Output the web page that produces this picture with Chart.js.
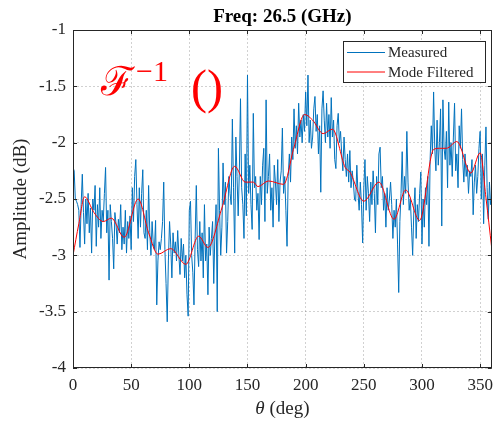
<!DOCTYPE html>
<html>
<head>
<meta charset="utf-8">
<script src="https://cdn.jsdelivr.net/npm/chart.js@4"></script>
<style>
html, body { margin: 0; padding: 0; background: #fff; }
</style>
</head>
<body>
<canvas id="myChart" width="500" height="423"></canvas>
<script>
// measured amplitude (dB), one sample per degree, theta = 0..360
var thetaStep = 1;
var measured = [
    -2.22, -2.25, -2.50, -2.52, -2.55, -2.60, -2.93, -2.55, -2.28, -2.62,
    -2.90, -2.50, -2.72, -2.45, -2.80, -2.58, -2.98, -2.50, -2.60, -2.38,
    -2.92, -2.55, -2.75, -2.40, -2.85, -2.60, -2.70, -2.45, -2.22, -2.80,
    -2.60, -3.22, -2.55, -2.70, -2.85, -3.12, -2.62, -2.72, -2.90, -2.68,
    -2.80, -2.55, -2.95, -2.75, -2.90, -2.60, -2.98, -2.70, -2.85, -2.65,
    -2.95, -2.40, -2.70, -2.30, -2.15, -2.55, -2.85, -2.40, -2.75, -2.45,
    -2.24, -2.80, -2.85, -2.60, -2.95, -2.38, -2.80, -3.00, -2.70, -2.90,
    -2.95, -2.69, -3.44, -3.05, -2.88, -2.95, -2.85, -2.70, -2.35, -2.95,
    -3.25, -3.59, -3.05, -2.70, -2.90, -3.20, -2.80, -2.98, -2.88, -3.05,
    -2.78, -3.00, -3.17, -2.85, -3.05, -2.90, -3.20, -3.00, -3.35, -3.54,
    -2.60, -2.52, -3.00, -3.15, -3.44, -2.85, -2.38, -2.95, -3.10, -2.70,
    -3.05, -2.80, -3.20, -2.55, -3.05, -2.90, -3.35, -2.75, -3.00, -2.85,
    -2.70, -3.25, -2.80, -2.55, -3.50, -2.05, -2.60, -3.00, -2.75, -2.18,
    -2.55, -2.35, -2.98, -2.70, -2.30, -2.45, -2.55, -1.79, -2.40, -2.98,
    -1.95, -2.30, -2.65, -2.25, -1.61, -2.40, -2.55, -2.85, -2.10, -2.65,
    -1.40, -2.45, -2.20, -2.55, -2.77, -1.74, -2.40, -2.30, -2.60, -2.45,
    -2.86, -2.30, -2.55, -2.20, -2.05, -2.70, -1.62, -2.45, -2.30, -2.10,
    -2.60, -2.40, -2.75, -2.20, -2.35, -2.55, -2.15, -2.70, -2.35, -2.25,
    -1.87, -2.45, -2.30, -2.60, -2.92, -2.30, -2.10, -2.35, -1.95, -2.15,
    -1.70, -2.05, -1.85, -2.10, -1.65, -1.95, -1.80, -2.00, -1.75, -1.90,
    -1.55, -1.85, -1.40, -2.00, -1.80, -2.05, -1.95, -1.70, -1.59, -1.90,
    -1.75, -2.10, -1.85, -2.44, -1.70, -1.54, -1.80, -2.00, -1.65, -1.95,
    -1.75, -2.05, -1.60, -1.95, -1.80, -2.15, -2.23, -1.85, -1.74, -2.00,
    -1.90, -2.10, -2.25, -1.95, -2.15, -2.30, -2.10, -2.35, -2.07, -2.40,
    -2.25, -2.35, -2.50, -2.52, -2.20, -2.45, -2.60, -2.35, -2.55, -2.89,
    -2.40, -2.15, -2.60, -2.30, -2.45, -2.70, -2.35, -2.55, -2.25, -2.45,
    -2.80, -2.30, -2.55, -2.10, -2.04, -2.40, -2.30, -2.60, -2.45, -2.75,
    -2.40, -2.60, -2.50, -2.35, -2.55, -2.85, -2.60, -2.75, -2.50, -2.90,
    -3.33, -2.70, -2.45, -2.08, -2.55, -2.30, -2.45, -1.90, -2.35, -2.60,
    -2.50, -2.75, -3.00, -2.60, -2.40, -2.85, -2.55, -2.70, -2.45, -2.26,
    -2.90, -2.50, -2.75, -2.40, -2.55, -2.30, -2.92, -2.15, -1.85, -2.10,
    -1.55, -2.05, -2.25, -1.80, -2.20, -2.00, -1.70, -2.74, -1.62, -2.05,
    -2.15, -1.90, -2.40, -1.64, -2.20, -2.00, -2.30, -1.95, -1.65, -2.25,
    -2.10, -2.40, -1.85, -2.05, -1.70, -2.15, -2.35, -2.10, -2.30, -2.20,
    -2.45, -2.25, -2.30, -2.15, -2.64, -2.35, -2.20, -2.45, -2.30, -2.05,
    -1.90, -2.50, -2.10, -2.72, -2.20, -1.86, -2.40, -2.68, -2.35, -2.55,
    -2.50
];

// mode filtered curve, read at its turning points
var filteredDeg = [0, 5, 10, 18, 26, 33, 44, 56, 65, 73, 84, 97, 108, 116, 128, 139, 148, 155, 159, 168,
    181, 190, 199, 206, 215, 223, 234, 238, 250, 263, 276, 286, 298, 310, 315, 321, 330, 342, 350, 355, 360];
var filteredAmp = [-3.00, -2.72, -2.48, -2.62, -2.70, -2.67, -2.84, -2.50, -2.80, -2.99, -2.94, -3.08, -2.83, -2.93, -2.58, -2.21, -2.35, -2.35, -2.39, -2.34,
    -2.37, -2.04, -1.75, -1.80, -1.92, -1.88, -2.22, -2.26, -2.52, -2.35, -2.68, -2.42, -2.69, -2.06, -2.05, -2.05, -1.99, -2.27, -2.09, -2.49, -2.94];

var xTicks = [0, 50, 100, 150, 200, 250, 300, 350];
var yTicks = [-4, -3.5, -3, -2.5, -2, -1.5, -1];
var seriesNames = ["Measured", "Mode Filtered"];
var seriesColors = ["#0072BD", "#FF0000"];
var titleText = "Freq: 26.5 (GHz)";

var textColor = "#262626";
var serif = "'Liberation Serif', 'Times New Roman', serif";

var measuredPts = measured.map(function(v, i) { return { x: i * thetaStep, y: v }; });
var filteredPts = filteredDeg.map(function(d, i) { return { x: d, y: filteredAmp[i] }; });

// title, box, inner ticks, legend, x label and the F^-1 note
var decorations = {
    id: "decorations",
    afterDraw: function(chart) {
        var ctx = chart.ctx;
        var a = chart.chartArea;
        var xs = chart.scales.x, ys = chart.scales.y;
        var cx = (a.left + a.right) / 2;
        ctx.save();

        ctx.fillStyle = "#000";
        ctx.font = "bold 19px " + serif;
        ctx.textAlign = "center";
        ctx.textBaseline = "alphabetic";
        ctx.fillText(titleText, cx, 22);

        ctx.strokeStyle = textColor;
        ctx.lineWidth = 1;
        ctx.beginPath();
        xTicks.forEach(function(t) {
            var px = Math.round(xs.getPixelForValue(t)) + 0.5;
            ctx.moveTo(px, a.bottom); ctx.lineTo(px, a.bottom - 4);
            ctx.moveTo(px, a.top); ctx.lineTo(px, a.top + 4);
        });
        yTicks.forEach(function(t) {
            var py = Math.round(ys.getPixelForValue(t)) + 0.5;
            ctx.moveTo(a.left, py); ctx.lineTo(a.left + 4, py);
            ctx.moveTo(a.right, py); ctx.lineTo(a.right - 4, py);
        });
        ctx.stroke();
        ctx.strokeRect(Math.round(a.left) + 0.5, Math.round(a.top) + 0.5,
            Math.round(a.right - a.left) - 1, Math.round(a.bottom - a.top) - 1);

        // legend
        var lx = 343, ly = 41, lw = 143, lh = 42;
        ctx.fillStyle = "#fff";
        ctx.fillRect(lx, ly, lw, lh);
        ctx.strokeStyle = textColor;
        ctx.strokeRect(lx + 0.5, ly + 0.5, lw - 1, lh - 1);
        ctx.font = "15px " + serif;
        ctx.textBaseline = "middle";
        ctx.textAlign = "left";
        seriesNames.forEach(function(name, i) {
            var yy = ly + 11.5 + i * 19.5;
            ctx.strokeStyle = seriesColors[i];
            ctx.beginPath();
            ctx.moveTo(lx + 4, yy); ctx.lineTo(lx + 42, yy);
            ctx.stroke();
            ctx.fillStyle = textColor;
            ctx.fillText(name, lx + 45, yy + 1);
        });

        // x axis label with italic theta
        ctx.fillStyle = textColor;
        ctx.textBaseline = "alphabetic";
        ctx.font = "italic 19px " + serif;
        var w1 = ctx.measureText("\u03B8").width;
        ctx.font = "19px " + serif;
        var w2 = ctx.measureText(" (deg)").width;
        var sx = cx - (w1 + w2) / 2;
        ctx.font = "italic 19px " + serif;
        ctx.fillText("\u03B8", sx, 414);
        ctx.font = "19px " + serif;
        ctx.fillText(" (deg)", sx + w1, 414);

        // inverse transform note
        ctx.fillStyle = "#FF0000";
        ctx.font = "40px 'DejaVu Serif', serif";
        ctx.fillText("\u2131", 101, 95);
        ctx.font = "30px " + serif;
        ctx.fillText("\u22121", 136, 81);
        ctx.font = "48px " + serif;
        ctx.fillText("()", 191, 103);

        ctx.restore();
    }
};

window.onload = function() {
    var ctx = document.getElementById("myChart").getContext("2d");
    var myChart = new Chart(ctx, {
        type: "line",
        data: {
            datasets: [{
                label: seriesNames[0],
                data: measuredPts,
                borderColor: seriesColors[0],
                borderWidth: 1,
                pointRadius: 0,
                tension: 0,
                order: 2
            }, {
                label: seriesNames[1],
                data: filteredPts,
                borderColor: seriesColors[1],
                borderWidth: 1,
                pointRadius: 0,
                cubicInterpolationMode: "monotone",
                order: 1
            }]
        },
        options: {
            responsive: false,
            animation: false,
            layout: { padding: { left: 0, right: 4, top: 30, bottom: 0 } },
            plugins: {
                legend: { display: false },
                tooltip: { enabled: false }
            },
            scales: {
                x: {
                    type: "linear",
                    min: 0,
                    max: 360,
                    afterFit: function(scale) { scale.height = 55; },
                    afterBuildTicks: function(scale) {
                        scale.ticks = xTicks.map(function(v) { return { value: v }; });
                    },
                    ticks: {
                        color: textColor,
                        font: { family: serif, size: 17 },
                        padding: 7,
                        autoSkip: false,
                        maxRotation: 0
                    },
                    grid: { color: "rgba(0,0,0,0.18)", drawTicks: false },
                    border: { display: false, dash: [2, 2] }
                },
                y: {
                    min: -4,
                    max: -1,
                    afterFit: function(scale) { scale.width = 73; },
                    afterBuildTicks: function(scale) {
                        scale.ticks = yTicks.map(function(v) { return { value: v }; });
                    },
                    ticks: {
                        color: textColor,
                        font: { family: serif, size: 17 },
                        padding: 7,
                        callback: function(v) { return String(v); }
                    },
                    grid: { color: "rgba(0,0,0,0.18)", drawTicks: false },
                    border: { display: false, dash: [2, 2] },
                    title: {
                        display: true,
                        text: "Amplitude (dB)",
                        color: textColor,
                        font: { family: serif, size: 19 },
                        padding: { top: 10, bottom: 4 }
                    }
                }
            }
        },
        plugins: [decorations]
    });
};
</script>
</body>
</html>
